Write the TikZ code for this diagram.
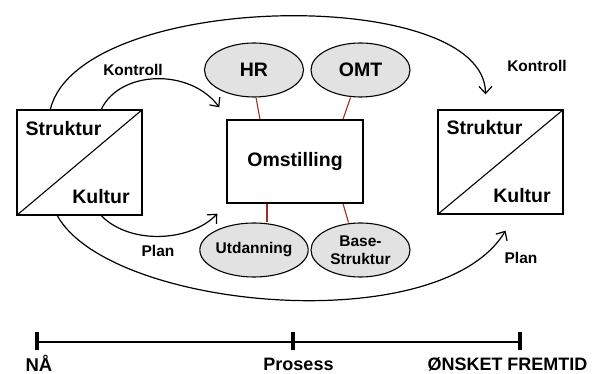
\documentclass[tikz,border=0pt]{standalone}
\usepackage{fontspec}
\setmainfont{Liberation Sans}
\usetikzlibrary{arrows.meta,shapes.geometric}
\definecolor{ovalfill}{HTML}{E2E2E2}
\definecolor{linkred}{HTML}{A42A22}
\begin{document}
\begin{tikzpicture}[x=1pt,y=-1pt,
  box/.style={draw,line width=1.4pt,inner sep=0pt},
  oval/.style={draw,ellipse,fill=ovalfill,line width=1.1pt,minimum width=99pt,minimum height=54pt,inner sep=0pt,align=center,font=\bfseries\fontsize{15.5}{17.5}\selectfont},
  big/.style={font=\bfseries\fontsize{19.5}{22}\selectfont,inner sep=0pt},
  small/.style={font=\bfseries\fontsize{15.5}{18}\selectfont,inner sep=0pt},
  flow/.style={line width=1.2pt,-{Straight Barb[length=7pt,width=13pt,line width=1.2pt]}},
  link/.style={draw=linkred,line width=1.1pt},
  tick/.style={line width=4.5pt}]
\useasboundingbox (0,0) rectangle (611,374);

% the two state boxes, split by a diagonal
\node[box,minimum width=125pt,minimum height=105pt] (L) at (79.5,162.5) {};
\draw[line width=1.1pt] (L.south west) -- (L.north east);
\node[big] (Ls) at (63.5,129) {Struktur};
\node[big] (Lk) at (101,197) {Kultur};

\node[box,minimum width=125pt,minimum height=104pt] (R) at (500.5,162) {};
\draw[line width=1.1pt] (R.south west) -- (R.north east);
\node[big] (Rs) at (484.5,128) {Struktur};
\node[big] (Rk) at (522,196) {Kultur};

% central change process with its four supports
\node[box,minimum width=136pt,minimum height=83pt,big] (O) at (295,161.5) {Omstilling};
\node[oval,font=\bfseries\fontsize{19.5}{22}\selectfont] (HR) at (254,70) {HR};
\node[oval,font=\bfseries\fontsize{19.5}{22}\selectfont] (OMT) at (360.5,70) {OMT};
\node[oval] (U) at (254,250) {Utdanning};
\node[oval] (B) at (360.5,250) {Base-\\Struktur};

\draw[link] ([xshift=2pt]HR.south) -- ([xshift=-35pt]O.north);
\draw[link] ([xshift=-10pt]OMT.south) -- ([xshift=48pt]O.north);
\draw[link] ([xshift=13pt]U.north) -- ([xshift=-28pt]O.south);
\draw[link] ([xshift=-12pt]B.north) -- ([xshift=48pt]O.south);

% arrow end points
\coordinate (kA) at ([xshift=34pt]L.north west);
\coordinate (kB) at ([xshift=85pt]L.north west);
\coordinate (pA) at ([xshift=41pt]L.south west);
\coordinate (pB) at ([xshift=85pt]L.south west);
\coordinate (oIn) at ([xshift=-7pt,yshift=12pt]O.north west);
\coordinate (oOut) at ([xshift=-9pt,yshift=-10pt]O.south west);
\coordinate (rIn) at ([xshift=-15pt,yshift=15pt]R.north);
\coordinate (rOut) at ([xshift=5pt,yshift=-16pt]R.south);

% flows
\draw[flow] (kA) .. controls (80,-10) and (485,-15) .. (rIn);
\draw[flow] (kB) .. controls (120,70) and (190,68) .. (oIn);
\draw[flow] (pB) .. controls (130,245) and (190,242) .. (oOut);
\draw[flow] (pA) .. controls (110,310) and (440,340) .. (rOut);

\node[small] (k1) at (133,70) {Kontroll};
\node[small] (k2) at (537,66) {Kontroll};
\node[small] (p1) at (158,251) {Plan};
\node[small] (p2) at (521,258) {Plan};

% time line
\coordinate (t0) at (37,342);
\coordinate (t1) at (293,342);
\coordinate (t2) at (520,342);
\draw[line width=1.4pt] (t0) -- (t1) -- (t2);
\draw[tick] (37,332) -- (37,350);
\draw[tick] (293,332) -- (293,350);
\draw[tick] (520,332) -- (520,350);
\node[big,font=\bfseries\fontsize{18.5}{22}\selectfont] (na) at (39,363) {NÅ};
\node[big,font=\bfseries\fontsize{18}{22}\selectfont] (pr) at (298.5,364) {Prosess};
\node[big,font=\bfseries\fontsize{18}{22}\selectfont] (fr) at (507.5,364) {ØNSKET FREMTID};
\end{tikzpicture}
\end{document}
